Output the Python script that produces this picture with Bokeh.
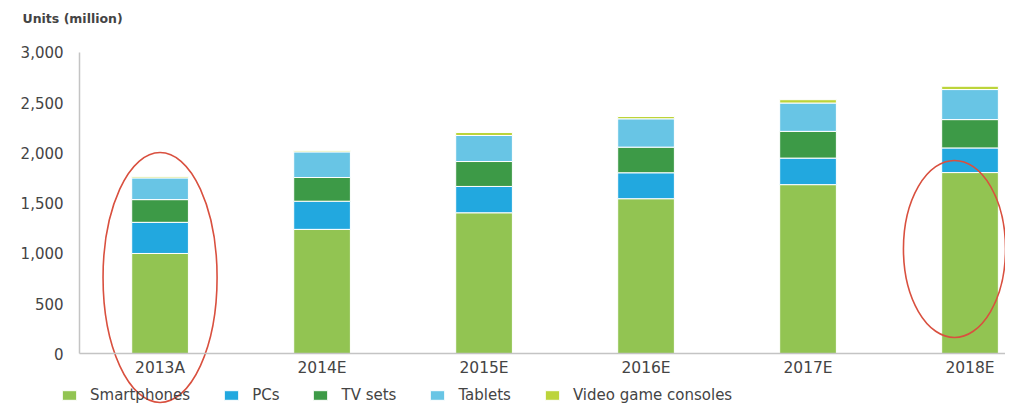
from bokeh.plotting import figure
from bokeh.models import (Range1d, LinearAxis, FixedTicker, NumeralTickFormatter,
                          Legend, LegendItem, Label)
from bokeh.embed import file_html
from bokeh.resources import INLINE

# ---- data ----
categories = ["2013A", "2014E", "2015E", "2016E", "2017E", "2018E"]
smartphones = [1000, 1240, 1405, 1545, 1685, 1805]
pcs = [310, 280, 262, 258, 264, 245]
tv_sets = [226, 236, 248, 255, 266, 282]
tablets = [216, 255, 259, 282, 282, 299]
consoles = [12, 12, 30, 23, 33, 33]
series_names = ["Smartphones", "PCs", "TV sets", "Tablets", "Video game consoles"]
y_ticks = [0, 500, 1000, 1500, 2000, 2500, 3000]

colors = ["#92c452", "#22a8df", "#3d9a47", "#68c5e5", "#bcd43a"]
FONT = "DejaVu Sans"
TXT = "#444444"

x = list(range(len(categories)))
source = dict(x=x, Smartphones=smartphones, PCs=pcs, TVsets=tv_sets,
              Tablets=tablets, Consoles=consoles)
keys = ["Smartphones", "PCs", "TVsets", "Tablets", "Consoles"]

p = figure(width=1005, height=404,
           x_range=Range1d(-0.985, 5.219), y_range=Range1d(-502.5, 3517),
           output_backend="svg", toolbar_location=None,
           x_axis_location=None, y_axis_location=None, min_border=0)
p.outline_line_color = None
for g in p.grid:
    g.visible = False

renderers = p.vbar_stack(keys, x="x", width=0.35, source=source, color=colors,
                         line_color="white", line_width=1)

# x axis at y=0
xaxis = LinearAxis(ticker=FixedTicker(ticks=x),
                   major_label_overrides={i: c for i, c in enumerate(categories)},
                   fixed_location=0, bounds=(-0.497, 5.3))
xaxis.axis_line_color = "#c4c4c4"
xaxis.axis_line_width = 1.5
xaxis.major_tick_line_color = None
xaxis.minor_tick_line_color = None
xaxis.major_tick_out = 0
xaxis.major_tick_in = 0
xaxis.major_label_standoff = 5
xaxis.major_label_text_font = FONT
xaxis.major_label_text_font_size = "15.5px"
xaxis.major_label_text_color = TXT
p.add_layout(xaxis, "below")

yaxis = LinearAxis(ticker=FixedTicker(ticks=y_ticks),
                   formatter=NumeralTickFormatter(format="0,0"),
                   fixed_location=-0.497, bounds=(0, 3000))
yaxis.axis_line_color = "#c4c4c4"
yaxis.axis_line_width = 1.5
yaxis.major_tick_line_color = None
yaxis.minor_tick_line_color = None
yaxis.major_tick_out = 0
yaxis.major_tick_in = 0
yaxis.major_label_standoff = 16
yaxis.major_label_text_font = FONT
yaxis.major_label_text_font_size = "15px"
yaxis.major_label_text_color = TXT
p.add_layout(yaxis, "left")

# red highlight ellipses (annotations)
p.ellipse(x=[0.0, 4.904], y=[761, 1045], width=[0.704, 0.63], height=[2488, 1761],
          fill_color=None, line_color="#d9503f", line_width=1.6)

# unit label
p.add_layout(Label(x=-0.849, y=3338, text="Units (million)", text_font=FONT,
                   text_font_size="12.5px", text_font_style="bold",
                   text_color=TXT, text_baseline="middle"))

legend = Legend(items=[LegendItem(label=n, renderers=[r]) for n, r in zip(series_names, renderers)],
                location=(60, 0), orientation="horizontal",
                glyph_width=18, glyph_height=12, label_standoff=12, spacing=32,
                padding=0, margin=0, border_line_color=None,
                background_fill_alpha=0, label_text_font=FONT,
                label_text_font_size="15px", label_text_color=TXT,
                label_height=16)
p.add_layout(legend, "center")

open("out.html", "w").write(file_html(p, INLINE))
